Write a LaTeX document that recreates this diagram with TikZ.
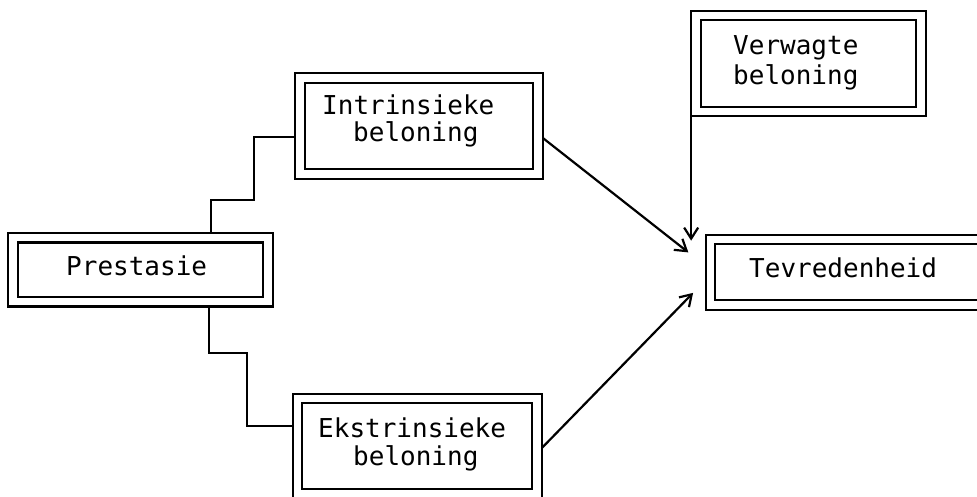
\documentclass[tikz,border=0pt]{standalone}
\usepackage{fontspec}
\setmonofont{DejaVu Sans Mono}
\usetikzlibrary{arrows.meta}
\begin{document}
\begin{tikzpicture}[x=1pt,y=-1pt,
  dbox/.style={draw,double,double distance=7.5pt,line width=2.2pt,outer sep=4.85pt,inner sep=0pt,shape=rectangle},
  txt/.style={anchor=base west,inner sep=0pt,font=\ttfamily\fontsize{26}{28}\selectfont},
  conn/.style={line width=2.2pt},
  arr/.style={line width=2.2pt,-{Straight Barb[length=11pt,width=14pt,line width=2.2pt]}}]
\useasboundingbox (0,0) rectangle (977,497);
% boxes
\node[dbox,minimum width=255pt,minimum height=64pt] (pre) at (140.4,269.6) {};
\node[dbox,minimum width=238pt,minimum height=96pt] (intr) at (419,126) {};
\node[dbox,minimum width=239.5pt,minimum height=95.5pt] (ekst) at (417.25,446.25) {};
\node[dbox,minimum width=225pt,minimum height=96pt] (verw) at (808.5,63.5) {};
\node[dbox,minimum width=290pt,minimum height=65.5pt] (tevr) at (855.5,272.25) {};
% texts
\node[txt] (tpre) at (66,275) {Prestasie};
\node[txt] (tintr1) at (322,115) {Intrinsieke};
\node[txt] (tintr2) at (353,142) {beloning};
\node[txt] (tekst1) at (318,437) {Ekstrinsieke};
\node[txt] (tekst2) at (353,465) {beloning};
\node[txt] (tverw1) at (733,55) {Verwagte};
\node[txt] (tverw2) at (733,85) {beloning};
\node[txt] (ttevr) at (749,277) {Tevredenheid};
% connectors
\draw[conn] (pre.north -| 211,0) -- (211,200) -- (254,200) -- (254,137) -- (intr.west |- 0,137);
\draw[conn] (pre.south -| 209,0) -- (209,353) -- (247,353) -- (247,426) -- (ekst.west |- 0,426);
\draw[arr,shorten >=22pt] (intr.east |- 0,138) -- (tevr.west |- 0,266);
\draw[arr,shorten >=18pt] (ekst.east |- 0,448) -- (tevr.west |- 0,280);
\draw[arr] (verw.south west) -- ([yshift=-6pt]verw.south west |- tevr.north);
\end{tikzpicture}
\end{document}
